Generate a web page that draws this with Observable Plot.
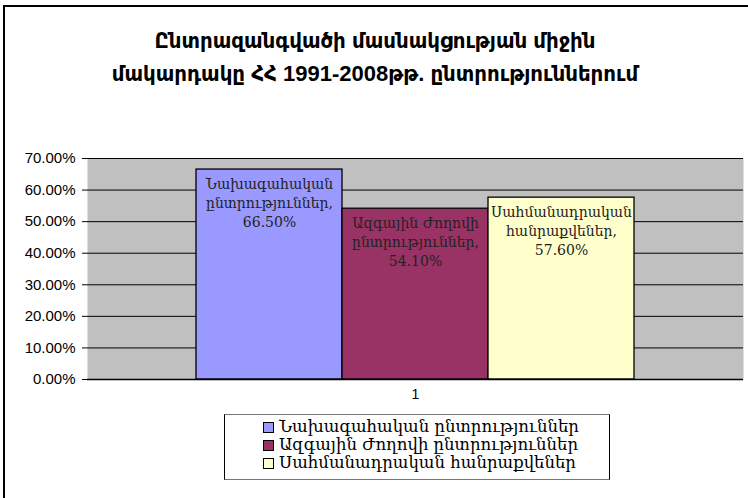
<!DOCTYPE html>
<html>
<head>
<meta charset="utf-8">
<script src="https://cdn.jsdelivr.net/npm/d3@7"></script>
<script src="https://cdn.jsdelivr.net/npm/@observablehq/plot@0.6"></script>
<style>
  html, body { margin: 0; padding: 0; background: #fff; }
  #wrap { position: relative; width: 748px; height: 498px; overflow: hidden; }
  #border { position: absolute; left: 3px; top: 5px; width: 760px; height: 510px; border: 2px solid #000; box-sizing: border-box; }
  #title { position: absolute; left: 0; top: 24px; width: 750px; text-align: center;
           font-family: "Liberation Sans", "DejaVu Sans Condensed", "DejaVu Sans", sans-serif;
           font-weight: bold; font-stretch: condensed; font-size: 22px; line-height: 33px; color: #000; }
  #chart { position: absolute; left: 0; top: 0; }
  #legend { position: absolute; left: 224px; top: 414px; width: 386px; height: 66px; box-sizing: border-box;
            border: 1px solid #000; border-top-color: #777; border-bottom-color: #777; background: #fff;
            padding: 3px 0 0 38px; font-family: "DejaVu Serif", serif; font-size: 16.5px; line-height: 18px; }
  .item { display: flex; align-items: center; white-space: nowrap; height: 18px; }
  .sw { width: 9px; height: 9px; border: 1px solid #000; margin-right: 5px; flex: none; }
</style>
</head>
<body>
<div id="wrap">
  <div id="border"></div>
  <div id="chart"></div>
  <div id="title">Ընտրազանգվածի մասնակցության միջին<br>մակարդակը ՀՀ 1991-2008թթ. ընտրություններում</div>
  <div id="legend"></div>
</div>
<script>
const categories = ["1"];
const series = ["Նախագահական ընտրություններ", "Ազգային Ժողովի ընտրություններ", "Սահմանադրական հանրաքվեներ"];
const barLabels = ["Նախագահական\nընտրություններ,", "Ազգային Ժողովի\nընտրություններ,", "Սահմանադրական\nհանրաքվեներ,"];
const values = [66.5, 54.1, 57.6];
const colors = ["#9999FF", "#993366", "#FFFFCC"];
const yTicks = [0, 10, 20, 30, 40, 50, 60, 70];

const data = series.map((s, i) => ({
  group: categories[0], series: s, value: values[i],
  label: barLabels[i] + "\n" + values[i].toFixed(2) + "%"
}));

const chart = Plot.plot({
  width: 748,
  height: 498,
  marginTop: 158,
  marginBottom: 119,
  marginLeft: 87,
  marginRight: 5,
  style: { background: "transparent", fontFamily: "Liberation Sans, Arial, sans-serif" },
  fx: { domain: categories, padding: 0, label: null, axis: null },
  x: { domain: series, paddingInner: 0, paddingOuter: 0.74, axis: null },
  y: { domain: [0, 70], label: null },
  color: { domain: series, range: colors },
  marks: [
    Plot.frame({ fill: "#C0C0C0", stroke: null }),
    Plot.gridY(yTicks, { stroke: "#000", strokeOpacity: 1, strokeWidth: 1 }),
    Plot.axisY(yTicks, { tickFormat: d => d.toFixed(2) + "%", tickSize: 5, tickPadding: 7, fontSize: 15, fill: "#000", label: null }),
    Plot.axisFx({ anchor: "bottom", tickSize: 0, fontSize: 14, tickPadding: 10, label: null, fill: "#000" }),
    Plot.barY(data, { fx: "group", x: "series", y: "value", fill: "series", stroke: "#000", strokeWidth: 1.3 }),
    Plot.text(data, { fx: "group", x: "series", y: "value", text: "label", lineAnchor: "top", dy: 6,
      fontSize: 14, lineHeight: 1.35, fill: "#222", fontFamily: "DejaVu Serif, serif" }),
    Plot.ruleX([0], { stroke: "#000", strokeWidth: 1.3 }),
    Plot.ruleY([0], { stroke: "#000", strokeWidth: 1.3 })
  ]
});
document.getElementById("chart").appendChild(chart);

const legend = document.getElementById("legend");
series.forEach((s, i) => {
  const row = document.createElement("div");
  row.className = "item";
  const sw = document.createElement("span");
  sw.className = "sw";
  sw.style.background = colors[i];
  const t = document.createElement("span");
  t.textContent = s;
  row.appendChild(sw); row.appendChild(t);
  legend.appendChild(row);
});
</script>
</body>
</html>
